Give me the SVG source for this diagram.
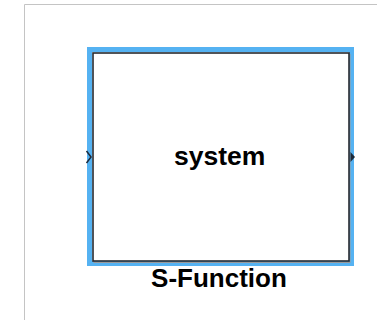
<svg xmlns="http://www.w3.org/2000/svg" width="377" height="320" viewBox="0 0 377 320">
<style>
.lbl{font-family:"Liberation Sans",Arial,sans-serif;font-weight:bold;fill:#000;text-anchor:middle}
</style>
<rect width="377" height="320" fill="#fff"/>
<path d="M24.5,320 V4.5 H377" fill="none" stroke="#c4c4c4" stroke-width="1"/>
<g id="sfunction">
<rect x="89.5" y="49.5" width="262" height="214" fill="none" stroke="#55b2f2" stroke-width="5"/>
<rect x="94" y="54.5" width="256" height="208" fill="none" stroke="#9a9a9a" stroke-width="1"/>
<rect x="93" y="53" width="256" height="208" fill="#fff" stroke="#262a30" stroke-width="1.6"/>
<text class="lbl" x="219.7" y="165" font-size="26.5">system</text>
<text class="lbl" x="219" y="287" font-size="26">S-Function</text>
</g>
<g id="connectors">
<path d="M86.5,151 L91,157 L86.5,163" fill="none" stroke="#1e2a3a" stroke-width="1.5"/>
<path d="M350.5,152 L355,157 L350.5,162 Z" fill="#1e2a3a"/>
</g>
</svg>
